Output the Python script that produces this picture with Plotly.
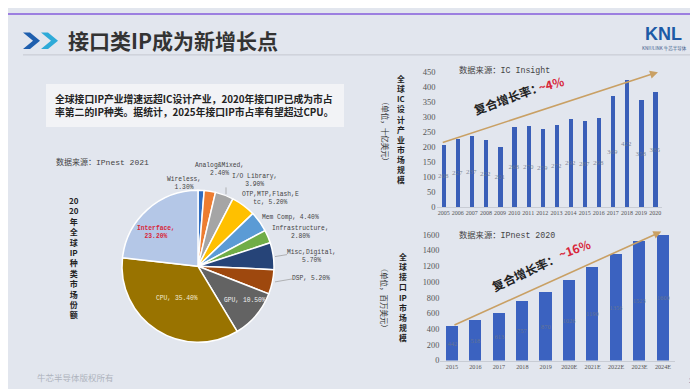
import plotly.graph_objects as go

W, H = 698, 389

# ---------------- data ----------------
pie_labels = ["Wireless", "Analog&Mixed", "I/O Library", "OTP,MTP,Flash,Etc", "Mem Comp",
              "Infrastructure", "Misc,Digital", "DSP", "GPU", "CPU", "Interface"]
pie_values = [1.3, 2.4, 3.9, 5.2, 4.4, 2.8, 5.7, 5.2, 10.5, 35.4, 23.2]
pie_display = ["Wireless,<br>", "Analog&Mixed,<br>", "I/O Library,<br>", "OTP,MTP,Flash,E<br>tc, ",
               "Mem Comp, ", "Infrastructure,<br>", "Misc,Digital,<br>", "DSP, ", "GPU, ", "CPU, ",
               "Interface,<br>"]

ic_years = [2005, 2006, 2007, 2008, 2009, 2010, 2011, 2012, 2013, 2014, 2015, 2016, 2017, 2018, 2019, 2020]
ic_values = [208, 227, 237, 222, 201, 268, 270, 259, 272, 292, 287, 298, 369, 422, 358, 385]

if_years = ["2015", "2016", "2017", "2018", "2019", "2020E", "2021E", "2022E", "2023E", "2024E"]
if_values = [442, 518, 613, 757, 870, 1026, 1190, 1356, 1523, 1600]

ic_cagr = "~4%"
if_cagr = "~16%"

# ---------------- styles ----------------
pie_colors = ["#2e6cc0", "#ed7d31", "#a5a5a5", "#ffc000", "#5b9bd5", "#70ad47",
              "#264478", "#9e480e", "#636363", "#997300", "#b4c7e7"]
BG = "#e2e6ee"
CJK = "Noto Sans CJK SC"
MONO = "Liberation Mono, Noto Sans CJK SC"
SERIF = "Liberation Serif"


def px(x):
    return x / W


def py(y):
    return 1 - y / H


fig = go.Figure()

# pie
fig.add_trace(go.Pie(
    labels=pie_labels, values=pie_values, sort=False, direction="clockwise",
    marker=dict(colors=pie_colors, line=dict(color="white", width=1.5)),
    textinfo="none", hoverinfo="label+percent", showlegend=False,
    domain=dict(x=[px(112), px(268)], y=[py(338), py(182)]),
))

# IC design bars
fig.add_trace(go.Bar(
    x=ic_years, y=ic_values, width=0.3, xaxis="x", yaxis="y",
    marker=dict(color="#3a5fb8", line=dict(width=0)),
    text=[str(v) for v in ic_values], textposition="inside", insidetextanchor="middle",
    textangle=0, constraintext="none",
    textfont=dict(family=SERIF, size=7, color="rgba(110,120,140,0.85)"),
    showlegend=False,
))

# Interface IP bars
fig.add_trace(go.Bar(
    x=if_years, y=if_values, width=0.52, xaxis="x2", yaxis="y2",
    marker=dict(color="#3b62c0", line=dict(width=0)),
    text=[str(v) for v in if_values], textposition="inside", insidetextanchor="middle",
    textangle=0, constraintext="none",
    textfont=dict(family=SERIF, size=6.5, color="rgba(110,120,140,0.85)"),
    showlegend=False,
))

ann = []

# pie labels
pie_pos = [(176, 175), (211, 161), (246, 172), (262, 190), (282, 210), (292, 225),
           (303, 250), (303, 273), (237, 295), (169, 293), (148, 225)]
for i, (lab, v) in enumerate(zip(pie_display, pie_values)):
    color = "#444"
    weight = "normal"
    if pie_labels[i] == "GPU":
        color = "#f2f2f2"
    if pie_labels[i] == "CPU":
        color = "#f3ecd6"
    if pie_labels[i] == "Interface":
        color = "#d8263a"
        weight = "bold"
    ann.append(dict(x=px(pie_pos[i][0]), y=py(pie_pos[i][1]), xref="paper", yref="paper",
                    text=f"{lab}{v:.2f}%", showarrow=False, xanchor="center", yanchor="middle",
                    font=dict(family=MONO, size=6.3, color=color, weight=weight)))

# CAGR arrows
ann.append(dict(x=2020.2, y=450, ax=2004.83, ay=214, xref="x", yref="y", axref="x", ayref="y",
                showarrow=True, arrowhead=2, arrowsize=1, arrowwidth=1.6, arrowcolor="#c9a064", text=""))
ann.append(dict(x=8.93, y=1642, ax=0.04, ay=443, xref="x2", yref="y2", axref="x2", ayref="y2",
                showarrow=True, arrowhead=2, arrowsize=1, arrowwidth=1.6, arrowcolor="#c9a064", text=""))

texts = [
    # (x, y, text, size, color, family, weight, angle, xanchor)
    (500, 87, "复合增长率：", 12, "#222", CJK, "bold", -20, "center"),
    (543, 72, ic_cagr, 12, "#d8263a", CJK, "bold", -15, "center"),
    (517, 265, "复合增长率：", 12, "#222", CJK, "bold", -25, "center"),
    (566, 242, if_cagr, 12, "#d8263a", CJK, "bold", -20, "center"),
    (449, 59, "数据来源：IC Insight", 8.3, "#444", MONO, "normal", 0, "left"),
    (449, 228, "数据来源：IPnest 2020", 8.3, "#444", MONO, "normal", 0, "left"),
    (46, 153, "数据来源：IPnest 2021", 8, "#444", MONO, "normal", 0, "left"),
    (377, 122, "（单位，十亿美元）", 7.5, "#333", CJK, "normal", 90, "center"),
    (377, 293, "（单位，百万美元）", 7.5, "#333", CJK, "normal", 90, "center"),
    (685, 377, "10", 7, "#2a5aa8", "Liberation Sans", "bold", 0, "center"),
    (27, 374, "牛芯半导体版权所有", 8.5, "#aeb3bd", CJK, "normal", 0, "left"),
    (58, 28, "接口类IP成为新增长点", 21, "#333", CJK, "bold", 0, "left"),
    (45, 88, "全球接口IP产业增速远超IC设计产业，2020年接口IP已成为市占", 9.8, "#222", CJK, "bold", 0, "left"),
    (45, 102, "率第二的IP种类。据统计，2025年接口IP市占率有望超过CPU。", 9.8, "#222", CJK, "bold", 0, "left"),
    (655, 22, "KNL", 18, "#1d5aa6", "Liberation Sans", "bold", 0, "center"),
    (656, 36, "KNIULINK 牛芯半导体", 4.5, "#3a5a8a", CJK, "normal", 0, "center"),
]
for (x, y, t, s, c, f, w, a, xa) in texts:
    ann.append(dict(x=px(x), y=py(y), xref="paper", yref="paper", text=t, showarrow=False,
                    xanchor=xa, yanchor="middle", textangle=a,
                    font=dict(family=f, size=s, color=c, weight=w)))

# stacked vertical titles
stacks = [
    (393, 119, ["全", "球", "IC", "设", "计", "产", "业", "市", "场", "规", "模"], 7.8),
    (395, 291, ["全", "球", "接", "口", "IP", "市", "场", "规", "模"], 7.8),
    (66, 251, ["20", "20", "年", "全", "球", "IP", "种", "类", "市", "场", "份", "额"], 8.0),
]
for (x, y, chars, s) in stacks:
    ann.append(dict(x=px(x), y=py(y), xref="paper", yref="paper", text="<br>".join(chars),
                    showarrow=False, xanchor="center", yanchor="middle",
                    font=dict(family=CJK, size=s, color="#222", weight="bold")))

shapes = [
    # top purple edge
    dict(type="rect", xref="paper", yref="paper", x0=0, x1=1, y0=py(2), y1=1,
         fillcolor="#9c7fe0", line=dict(width=0)),
    # title underline
    dict(type="line", xref="paper", yref="paper", x0=px(15), x1=px(686), y0=py(43), y1=py(43),
         line=dict(color="#c4c8d0", width=1)),
    # text box
    dict(type="rect", xref="paper", yref="paper", x0=px(38), x1=px(336), y0=py(117), y1=py(73),
         fillcolor="#f2f3f6", line=dict(width=0), layer="below"),
    # chevrons
    dict(type="path", xref="paper", yref="paper",
         path=f"M {px(15)} {py(20)} L {px(22)} {py(20)} L {px(32)} {py(28.5)} L {px(22)} {py(37)} "
              f"L {px(15)} {py(37)} L {px(25)} {py(28.5)} Z",
         fillcolor="#1f5fae", line=dict(width=0)),
    dict(type="path", xref="paper", yref="paper",
         path=f"M {px(33)} {py(20)} L {px(40)} {py(20)} L {px(50)} {py(28.5)} L {px(40)} {py(37)} "
              f"L {px(33)} {py(37)} L {px(43)} {py(28.5)} Z",
         fillcolor="#2eaad8", line=dict(width=0)),
    # pie leader lines
    dict(type="line", xref="paper", yref="paper", x0=px(267), x1=px(279), y0=py(250), y1=py(248),
         line=dict(color="#999", width=0.7)),
    dict(type="line", xref="paper", yref="paper", x0=px(267), x1=px(284), y0=py(276), y1=py(273),
         line=dict(color="#999", width=0.7)),
    dict(type="line", xref="paper", yref="paper", x0=px(218), x1=px(218), y0=py(186), y1=py(179),
         line=dict(color="#999", width=0.7)),
]

axis_common = dict(showgrid=False, zeroline=False, fixedrange=True)

fig.update_layout(
    width=W, height=H, margin=dict(l=0, r=0, t=0, b=0),
    paper_bgcolor=BG, plot_bgcolor="rgba(0,0,0,0)",
    bargap=0,
    xaxis=dict(domain=[px(428.6), px(654.2)], range=[2004.5, 2020.5], tickmode="array",
               tickvals=ic_years, ticktext=[str(y) for y in ic_years], anchor="y",
               showline=True, linecolor="#c8ccd4", linewidth=1, ticks="", tickangle=0,
               tickfont=dict(family=SERIF, size=6, color="#555"), **axis_common),
    yaxis=dict(domain=[py(199.3), py(60.7)], range=[0, 450], dtick=50, anchor="x",
               showline=False, ticks="", tickfont=dict(family=SERIF, size=8.5, color="#555"),
               **axis_common),
    xaxis2=dict(domain=[px(432.3), px(666.7)], range=[-0.5, 9.5], type="category", anchor="y2",
                showline=True, linecolor="#c8ccd4", linewidth=1, ticks="", tickangle=0,
                tickfont=dict(family=SERIF, size=6.2, color="#555"), **axis_common),
    yaxis2=dict(domain=[py(356.7), py(227.7)], range=[0, 1600], dtick=200, anchor="x2",
                showline=False, ticks="", tickfont=dict(family=SERIF, size=8.3, color="#555"),
                **axis_common),
    annotations=ann,
    shapes=shapes,
)

fig.write_html("out.html")
